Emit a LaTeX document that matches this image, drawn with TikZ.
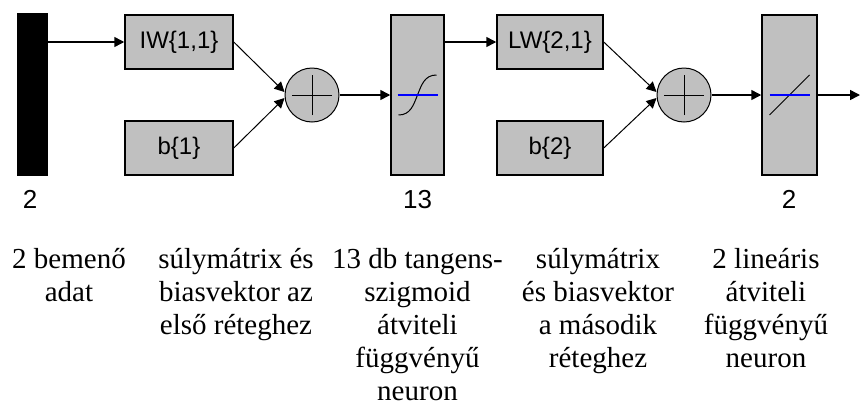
\documentclass[tikz,border=0pt]{standalone}
\usepackage{fontspec}
\setmainfont{Liberation Serif}
\setsansfont{Liberation Sans}
\usepackage{xcolor}
\usetikzlibrary{arrows.meta}
\definecolor{simgray}{RGB}{192,192,192}

\begin{document}
\begin{tikzpicture}[x=1pt, y=-1pt,
    blk/.style={draw, line width=1.5pt, fill=simgray, inner sep=0pt, font=\sffamily\fontsize{24}{24}\selectfont},
    sumnode/.style={circle, draw, line width=1pt, fill=simgray, minimum size=54pt, inner sep=0pt},
    conn/.style={line width=1.5pt, -{Triangle[length=10pt, width=10pt]}},
    desc/.style={align=center, font=\fontsize{29}{33}\selectfont, inner sep=0pt, anchor=base},
    dim/.style={font=\sffamily\fontsize{26}{26}\selectfont, inner sep=0pt, anchor=base}]
        \useasboundingbox (0,0) rectangle (861,405);

        \node[blk, fill=black, minimum width=29pt, minimum height=161pt] (in) at (32.5,94.5) {};
        \node[blk, minimum width=108pt, minimum height=54pt] (iw) at (179,42) {IW\{1,1\}};
        \node[blk, minimum width=108pt, minimum height=54pt] (b1) at (179,148) {b\{1\}};
        \node[sumnode] (s1) at (312,95) {};
        \node[blk, minimum width=53pt, minimum height=160pt] (ts) at (417.5,95) {};
        \node[blk, minimum width=106pt, minimum height=54pt] (lw) at (550,42) {LW\{2,1\}};
        \node[blk, minimum width=106pt, minimum height=54pt] (b2) at (550,148) {b\{2\}};
        \node[sumnode] (s2) at (684,95) {};
        \node[blk, minimum width=55pt, minimum height=160pt] (pl) at (789.5,95) {};
        \coordinate (out) at (860,95);

        \draw[line width=1pt] ([xshift=-20pt]s1.center) -- ([xshift=20pt]s1.center);
        \draw[line width=1pt] ([yshift=-20pt]s1.center) -- ([yshift=20pt]s1.center);
        \draw[line width=1pt] ([xshift=-20pt]s2.center) -- ([xshift=20pt]s2.center);
        \draw[line width=1pt] ([yshift=-20pt]s2.center) -- ([yshift=20pt]s2.center);

        \draw[line width=1pt] ([shift={(-19pt,-20pt)}]ts.center) .. controls ([shift={(-7pt,-20pt)}]ts.center) and ([shift={(-4pt,-10pt)}]ts.center) .. (ts.center)
            .. controls ([shift={(4pt,10pt)}]ts.center) and ([shift={(7pt,20pt)}]ts.center) .. ([shift={(19pt,20pt)}]ts.center);
        \draw[blue, line width=1.5pt] ([xshift=-20pt]ts.center) -- ([xshift=20pt]ts.center);
        \draw[line width=1pt] ([shift={(-20pt,-20pt)}]pl.center) -- ([shift={(20pt,20pt)}]pl.center);
        \draw[blue, line width=1.5pt] ([xshift=-20pt]pl.center) -- ([xshift=20pt]pl.center);

        \draw[conn] (in.east |- iw.west) -- (iw.west);
        \draw[conn, line width=1pt] (iw.east) -- ([yshift=3pt]s1.west);
        \draw[conn, line width=1pt] (b1.east) -- ([yshift=-3pt]s1.west);
        \draw[conn] (s1.east) -- (ts.west);
        \draw[conn] (ts.east |- lw.west) -- (lw.west);
        \draw[conn, line width=1pt] (lw.east) -- ([yshift=3pt]s2.west);
        \draw[conn, line width=1pt] (b2.east) -- ([yshift=-3pt]s2.west);
        \draw[conn] (s2.east) -- (pl.west);
        \draw[conn] (pl.east) -- (out);

        \node[dim] (n1) at (30,208) {2};
        \node[dim] (n2) at (417.5,208) {13};
        \node[dim] (n3) at (789,208) {2};

        \node[desc] (d1) at (69,301) {2 bemenő\\adat};
        \node[desc] (d2) at (236,334) {súlymátrix és\\biasvektor az\\első réteghez};
        \node[desc] (d3) at (417.5,400) {13 db tangens-\\szigmoid\\átviteli\\függvényű\\neuron};
        \node[desc] (d4) at (598,367) {súlymátrix\\és biasvektor\\a második\\réteghez};
        \node[desc] (d5) at (766,367) {2 lineáris\\átviteli\\függvényű\\neuron};
\end{tikzpicture}
\end{document}
